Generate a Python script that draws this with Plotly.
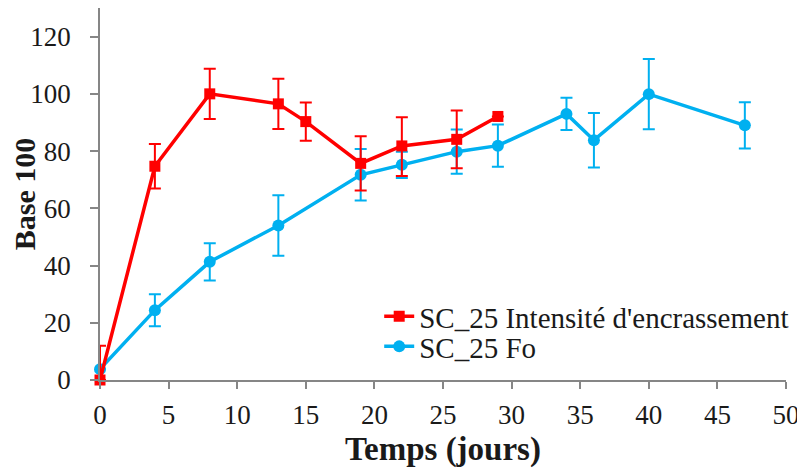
import plotly.graph_objects as go

# Data
red_x = [0, 4, 8, 13, 15, 19, 22, 26, 29]
red_y = [0, 74.7, 100, 96.5, 90.3, 75.7, 81.8, 84.1, 92.1]
red_err_plus = [12, 7.8, 8.8, 8.8, 6.7, 9.5, 10.0, 10.1, 0]
red_err_minus = [0, 7.8, 8.8, 8.8, 6.7, 9.5, 10.5, 10.1, 0]

blue_x = [0, 4, 8, 13, 19, 22, 26, 29, 34, 36, 40, 47]
blue_y = [3.8, 24.4, 41.3, 54.0, 71.7, 75.2, 79.8, 81.9, 93.0, 83.8, 99.9, 89.0]
blue_err = [0, 5.6, 6.5, 10.6, 9.0, 4.6, 7.7, 7.4, 5.6, 9.5, 12.3, 8.1]

red_name = "SC_25 Intensité d'encrassement"
blue_name = "SC_25 Fo"

x_ticks = [0, 5, 10, 15, 20, 25, 30, 35, 40, 45, 50]
y_ticks = [0, 20, 40, 60, 80, 100, 120]

RED = "#FF0000"
BLUE = "#00B0F0"
AXIS = "#868686"
FONT = "Liberation Serif"
TXT = "#1a1a1a"

fig = go.Figure()
fig.add_trace(go.Scatter(
    x=blue_x, y=blue_y, name=blue_name, mode="lines+markers", legend="legend2",
    line=dict(color=BLUE, width=3.5),
    marker=dict(symbol="circle", size=12, color=BLUE),
    error_y=dict(type="data", array=blue_err, color=BLUE, thickness=2, width=6),
    cliponaxis=False,
))
fig.add_trace(go.Scatter(
    x=red_x, y=red_y, name=red_name, mode="lines+markers", legend="legend",
    line=dict(color=RED, width=3.5),
    marker=dict(symbol="square", size=11, color=RED),
    error_y=dict(type="data", symmetric=False, array=red_err_plus, arrayminus=red_err_minus,
                 color=RED, thickness=2, width=6),
    cliponaxis=False,
))

leg_common = dict(xanchor="left", yanchor="middle", bgcolor="rgba(0,0,0,0)",
                  font=dict(size=29, family=FONT, color=TXT))

fig.update_layout(
    width=805, height=473,
    margin=dict(l=92, r=27, t=0, b=101, autoexpand=False),
    plot_bgcolor="white", paper_bgcolor="white",
    font=dict(family=FONT, color=TXT, size=27),
    showlegend=True,
    legend=dict(x=0.407, y=0.171, **leg_common),
    legend2=dict(x=0.407, y=0.09, **leg_common),
    xaxis=dict(range=[0, 50], tickvals=x_ticks, showgrid=False, zeroline=False,
               showline=True, linecolor=AXIS, linewidth=1.5, automargin=False,
               ticks="outside", ticklen=7, tickwidth=1.5, tickcolor=AXIS,
               ticklabelstandoff=3,
               tickfont=dict(size=27, family=FONT, color=TXT),
               title=dict(text="<b>Temps (jours)</b>", standoff=8,
                          font=dict(size=33, family=FONT, color=TXT))),
    yaxis=dict(range=[0, 130], tickvals=y_ticks, showgrid=False, zeroline=False,
               showline=True, linecolor=AXIS, linewidth=1.5, automargin=False,
               ticks="outside", ticklen=8, tickwidth=1.5, tickcolor=AXIS,
               ticklabelstandoff=14,
               tickfont=dict(size=27, family=FONT, color=TXT),
               title=dict(text="<b>Base 100</b>", font=dict(size=30, family=FONT, color=TXT))),
    xaxis2=dict(range=[0, 50], tickvals=x_ticks, overlaying="x", anchor="y", side="bottom",
                showgrid=False, zeroline=False, showline=False, showticklabels=False,
                automargin=False,
                ticks="inside", ticklen=7, tickwidth=1.5, tickcolor=AXIS),
    yaxis2=dict(range=[0, 130], tickvals=y_ticks, overlaying="y", anchor="x", side="left",
                showgrid=False, zeroline=False, showline=False, showticklabels=False,
                automargin=False,
                ticks="inside", ticklen=8, tickwidth=1.5, tickcolor=AXIS),
)

fig.write_html("out.html")
